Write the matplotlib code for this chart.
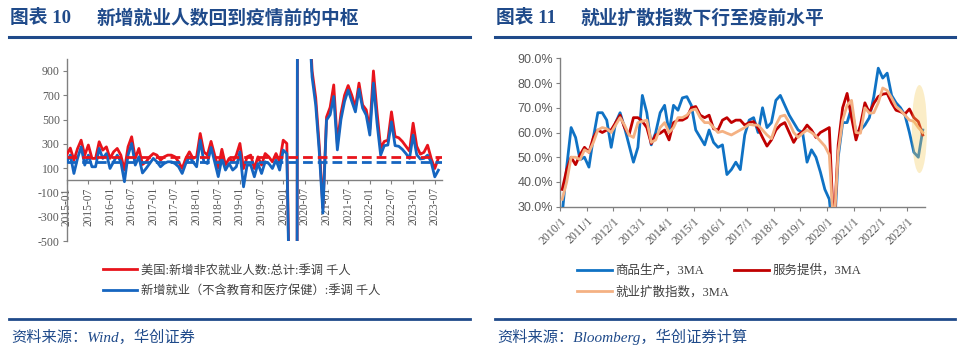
import numpy as np
import matplotlib.pyplot as plt
from matplotlib.patches import Ellipse
from matplotlib.lines import Line2D

plt.rcParams['font.family'] = ['Liberation Serif', 'Noto Sans CJK SC', 'DejaVu Sans']
plt.rcParams['axes.unicode_minus'] = False

# ---- left panel: monthly new jobs, 2015-01 .. 2023-08 (thousands, SA)
nfp_total = [
    210, 265, 165, 260, 330, 207, 290, 180, 180, 317, 248, 275,   # 2015
    180, 234, 262, 207, 84, 275, 358, 180, 262, 130, 152, 193,    # 2016
    220, 207, 166, 193, 207, 207, 193, 152, 97, 180, 234, 180,    # 2017
    193, 385, 234, 207, 320, 207, 100, 255, 125, 180, 152, 207,   # 2018
    303, 97, 193, 207, 97, 193, 125, 220, 193, 152, 220, 152,     # 2019
    330, 303, -1400, -20500, 2800, 4600, 1700, 1500, 900, 680, 280, -230,  # 2020
    520, 600, 785, 300, 550, 700, 780, 700, 600, 800, 620, 580,   # 2021
    420, 900, 560, 265, 320, 330, 563, 360, 350, 320, 280, 240,   # 2022
    470, 280, 215, 230, 289, 180, 97, 182,                        # 2023
]
nfp_ex_edu_health = [
    150, 207, 56, 180, 275, 125, 207, 111, 111, 262, 180, 220,
    97, 152, 207, 152, -12, 207, 303, 125, 193, 60, 97, 138,
    180, 152, 111, 138, 152, 152, 138, 111, 56, 138, 193, 152,
    111, 330, 152, 138, 270, 152, 30, 180, 84, 138, 84, 111,
    234, -54, 125, 125, 29, 138, 56, 152, 138, 97, 166, 84,
    248, 220, -1450, -19500, 2700, 4400, 1600, 1400, 850, 620, 230, -270,
    495, 540, 690, 250, 500, 650, 742, 650, 563, 750, 594, 536,
    372, 800, 470, 207, 285, 290, 481, 285, 280, 255, 220, 180,
    372, 210, 175, 180, 207, 150, 28, 83,
]
nfp_total_prepandemic = 188
nfp_ex_prepandemic = 147
left_labels = [f"{y}-{m:02d}" for y in range(2015, 2024) for m in (1, 7)]

# ---- right panel: diffusion indices, 3MA, every two months 2010-02 .. 2023-08 (%)
right_months = np.arange(1, 164, 2)
diff_goods = [
    27, 46, 62, 58, 49, 50, 46, 58, 68, 68, 65, 54,
    64, 68, 62, 55, 48, 54, 75, 68, 55, 60, 68, 71,
    60, 71, 69, 74, 74.5, 71, 61, 58, 55, 61, 56, 54,
    55, 43, 45, 48, 45, 59, 65, 66, 60, 70, 62, 64,
    73, 75, 71, 67, 64, 61, 60, 48, 53, 50, 44, 37,
    33, 15, 50, 64, 64, 70, 60, 61, 63, 66, 74.5, 86,
    82, 84, 75, 72, 70, 67, 60, 52, 50, 61,
]
diff_services = [
    37, 45, 50, 47, 51, 54, 52, 58, 61, 60, 61, 61,
    64, 67, 62, 59, 66, 66, 64.5, 62, 55.5, 59, 59.7, 61,
    57, 64, 65, 65, 66, 70, 70.5, 67, 66, 67, 61.5, 61,
    65, 66, 64, 65, 65, 63, 64, 64.4, 61.7, 58, 54.5, 57,
    61, 63, 64, 60, 56, 59, 60.3, 63, 61, 58, 60, 61,
    62, 20, 55, 70, 75.8, 66, 57, 63, 72, 68, 71.8, 74.5,
    75.5, 75.8, 72, 69, 68.4, 67.5, 69.5, 66, 64.4, 59,
]
diff_total = [
    33, 40, 50, 50, 49, 53, 52, 56, 61, 62, 61.5, 60,
    63, 66, 63, 59, 58, 64, 64.5, 65, 56, 57, 62, 64,
    60, 62, 66, 66, 67, 69, 69.5, 66, 64, 64, 62, 60,
    60.5, 59.7, 59, 60, 61, 62, 63.3, 63, 63, 61, 59, 57.5,
    63, 66.5, 67, 64, 60, 58, 59.7, 61, 60, 58.5, 56.5, 54.5,
    51, 20, 52, 65, 71, 73, 60, 59.7, 70, 67.8, 68, 72,
    78, 77, 74, 70.5, 69, 67, 65, 64.5, 62, 60,
]
right_labels = [f"{y}/1" for y in range(2010, 2024)]

NAVY = '#1f4a8a'
GRAY = '#404040'
W, H = 960, 352

fig = plt.figure(figsize=(9.6, 3.52), dpi=100)


def px_axes(x0, y0, x1, y1):
    return fig.add_axes([x0 / W, 1 - y1 / H, (x1 - x0) / W, (y1 - y0) / H])


def fx(x):
    return x / W


def fy(y):
    return 1 - y / H


# ---------------- left chart
ax1 = px_axes(66.7, 58.8, 442, 241)
for s in ('top', 'right'):
    ax1.spines[s].set_visible(False)
# move the x axis to y=0 first (this resets tick settings)
ax1.spines['bottom'].set_position(('data', 0))
for s in ('left', 'bottom'):
    ax1.spines[s].set_color('#808080')
    ax1.spines[s].set_linewidth(1.0)

xm = np.arange(len(nfp_total))
l_red, = ax1.plot(xm, nfp_total, color='#e8141c', lw=2.0, zorder=3)
l_blue, = ax1.plot(xm, nfp_ex_edu_health, color='#1565c0', lw=2.0, zorder=4)
ax1.axhline(nfp_total_prepandemic, color='#e8141c', lw=2.0, ls=(0, (3.5, 1.8)), zorder=5)
ax1.axhline(nfp_ex_prepandemic, color='#1565c0', lw=2.0, ls=(0, (3.5, 1.8)), zorder=5)
ax1.set_xlim(0, 104)
ax1.set_ylim(-500, 1000)
ax1.set_yticks(range(-500, 1000, 200))
ax1.set_xticks(range(0, 103, 6))
ax1.set_xticklabels(left_labels)
ax1.tick_params(axis='both', length=3, width=0.8, color='#808080',
                labelsize=8.5, labelcolor='#595959', pad=2)
ax1.tick_params(axis='x', labelrotation=90, labelsize=8.3)
ax1.set_facecolor('none')

# ---------------- right chart
ax2 = px_axes(560, 58.3, 925, 206.7)
g_line, = ax2.plot(right_months, diff_goods, color='#0f72c4', lw=2.0, zorder=3)
s_line, = ax2.plot(right_months, diff_services, color='#c00000', lw=2.0, zorder=3)
t_line, = ax2.plot(right_months, diff_total, color='#f4b183', lw=2.0, zorder=4)
ax2.add_patch(Ellipse((161.5, 61.4), 6.8, 35.6, facecolor='#f5cd60', edgecolor='none',
                      alpha=0.35, zorder=6, clip_on=False))
ax2.set_xlim(0, 164)
ax2.set_ylim(30, 90)
ax2.set_yticks(range(30, 91, 10))
ax2.set_yticklabels([f"{v:.1f}%" for v in range(30, 91, 10)], family='Liberation Sans')
ax2.set_xticks(range(0, 157, 12))
ax2.set_xticklabels(right_labels, rotation=45, ha='right', rotation_mode='anchor')
for s in ('top', 'right'):
    ax2.spines[s].set_visible(False)
for s in ('left', 'bottom'):
    ax2.spines[s].set_color('#808080')
    ax2.spines[s].set_linewidth(1.0)
ax2.tick_params(axis='both', length=3, width=0.8, color='#808080',
                labelsize=9, labelcolor='#595959', pad=2)
ax2.tick_params(axis='x', labelsize=8.5, pad=3)

# ---------------- titles, rules, sources
for x0, num, text_x, text in ((10, "图表 10", 97, "新增就业人数回到疫情前的中枢"),
                              (496, "图表 11", 580, "就业扩散指数下行至疫前水平")):
    fig.text(fx(x0), fy(18), num, fontsize=13.5, fontweight='bold', color=NAVY, va='center')
    fig.text(fx(text_x), fy(18), text, fontsize=13.5, fontweight='bold', color=NAVY,
             va='center', family=['Noto Sans CJK SC'])

for x0, x1 in ((9, 470), (495, 955)):
    fig.add_artist(Line2D([fx(x0), fx(x1)], [fy(37.3)] * 2, color=NAVY, lw=2.2))
    fig.add_artist(Line2D([fx(x0), fx(x1)], [fy(318.6)] * 2, color=NAVY, lw=2.0))

fig.text(fx(11), fy(337), "资料来源：Wind，华创证券", fontsize=11, style='italic',
         color=NAVY, va='center')
fig.text(fx(497), fy(337), "资料来源：Bloomberg，华创证券计算", fontsize=11, style='italic',
         color=NAVY, va='center')

# ---------------- legends
fig.legend([l_red, l_blue],
           ["美国:新增非农就业人数:总计:季调 千人", "新增就业（不含教育和医疗保健）:季调 千人"],
           loc='upper left', bbox_to_anchor=(fx(102.7), fy(264.5)), frameon=False,
           fontsize=8.8, labelcolor=GRAY, handlelength=2.77, handletextpad=0.35,
           labelspacing=0.72, borderpad=0, borderaxespad=0)
fig.legend([g_line, t_line, s_line],
           ["商品生产，3MA", "就业扩散指数，3MA", "服务提供，3MA"],
           ncol=2, loc='upper left', bbox_to_anchor=(fx(576.7), fy(264.5)), frameon=False,
           fontsize=9, labelcolor=GRAY, handlelength=2.8, handletextpad=0.3,
           labelspacing=0.72, columnspacing=0.4, borderpad=0, borderaxespad=0)

fig.savefig('out.png', dpi=100, facecolor='white')
plt.close(fig)
